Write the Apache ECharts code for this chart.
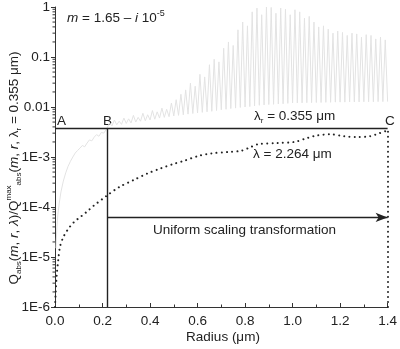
<!DOCTYPE html>
<html><head><meta charset="utf-8">
<script src="https://cdn.jsdelivr.net/npm/echarts@6/dist/echarts.min.js"></script>
<style>html,body{margin:0;padding:0;background:#fff}#c{width:400px;height:349px}</style>
</head><body><div id="c"></div>
<script>
// ---- data ----
const xTicks = [0, 0.2, 0.4, 0.6, 0.8, 1.0, 1.2, 1.4];
const yTickLabels = ['1E-6', '1E-5', '1E-4', '1E-3', '0.01', '0.1', '1'];
const yMinorMult = [2, 3, 4, 5, 6, 7, 8, 9];
const yDecades = [1e-6, 1e-5, 1e-4, 1e-3, 1e-2, 1e-1];

// gray curve (lambda_r = 0.355 um): smooth rise then resonances
const riseR = [0.004,0.008,0.012,0.018,0.025,0.035,0.045,0.055,0.065,0.075,0.085,0.095,0.105,0.115,0.125,0.135,0.145,0.155,0.165,0.175,0.185,0.195,0.205,0.215,0.222];
const riseV = [1.5e-5,4e-5,7e-5,1.2e-4,2e-4,3.3e-4,4.8e-4,6.5e-4,8.2e-4,1.0e-3,1.2e-3,1.35e-3,1.5e-3,1.7e-3,1.6e-3,1.9e-3,2.2e-3,2.1e-3,2.5e-3,2.8e-3,2.6e-3,3.1e-3,3.0e-3,3.5e-3,3.8e-3];
const peakR = [0.23,0.25,0.27,0.29,0.31,0.33,0.35,0.37,0.39,0.41,0.43,0.45,0.47,0.49,0.51,0.53,0.55,0.57,0.59,0.61,0.63,0.65,0.67,0.69,0.71,0.73,0.75,0.77,0.79,0.81,0.83,0.85,0.87,0.89,0.91,0.93,0.95,0.97,0.99,1.01,1.03,1.05,1.07,1.09,1.11,1.13,1.15,1.17,1.19,1.21,1.23,1.25,1.27,1.29,1.31,1.33,1.35,1.37,1.39];
const peakV = [0.0048,0.0055,0.0052,0.006,0.0058,0.0068,0.0062,0.0075,0.007,0.0085,0.008,0.0095,0.009,0.012,0.014,0.018,0.022,0.03,0.026,0.045,0.04,0.07,0.09,0.08,0.15,0.2,0.17,0.35,0.5,0.42,0.8,0.95,0.7,1.0,0.98,0.75,0.95,0.9,0.7,0.88,0.8,0.6,0.65,0.5,0.4,0.42,0.36,0.3,0.33,0.31,0.27,0.3,0.29,0.25,0.28,0.27,0.23,0.25,0.22];
const troughR = [0.24,0.26,0.28,0.30,0.32,0.34,0.36,0.38,0.40,0.42,0.44,0.46,0.48,0.50,0.52,0.54,0.56,0.58,0.60,0.62,0.64,0.66,0.68,0.70,0.72,0.74,0.76,0.78,0.80,0.82,0.84,0.86,0.88,0.90,0.92,0.94,0.96,0.98,1.00,1.02,1.04,1.06,1.08,1.10,1.12,1.14,1.16,1.18,1.20,1.22,1.24,1.26,1.28,1.30,1.32,1.34,1.36,1.38,1.40];
const troughV = [0.0042,0.0044,0.0045,0.0047,0.0048,0.005,0.0052,0.0053,0.0055,0.0057,0.006,0.0062,0.0064,0.0066,0.0068,0.007,0.0072,0.0074,0.0076,0.0078,0.008,0.0082,0.0085,0.0088,0.009,0.0093,0.0095,0.0098,0.01,0.0102,0.0105,0.0108,0.011,0.0112,0.0113,0.0115,0.0116,0.0118,0.012,0.012,0.0121,0.0122,0.0122,0.0123,0.0123,0.0124,0.0124,0.0125,0.0125,0.0125,0.0126,0.0126,0.0126,0.0127,0.0127,0.0127,0.0128,0.0128,0.0128];

// dotted curve (lambda = 2.264 um)
const dotR = [0.0,0.003,0.007,0.014,0.021,0.035,0.055,0.08,0.11,0.14,0.167,0.2,0.222,0.27,0.333,0.39,0.444,0.5,0.54,0.604,0.658,0.729,0.783,0.82,0.854,0.9375,1.008,1.0625,1.104,1.158,1.217,1.27,1.325,1.367,1.4];
const dotV = [1e-6,2e-6,4.2e-6,9e-6,1.6e-5,2.5e-5,3.6e-5,5e-5,6.5e-5,8.5e-5,1.1e-4,1.45e-4,1.74e-4,2.5e-4,3.5e-4,4.7e-4,5.9e-4,7.3e-4,8.3e-4,1.05e-3,1.18e-3,1.26e-3,1.33e-3,1.55e-3,1.8e-3,1.9e-3,2.0e-3,2.4e-3,2.7e-3,2.85e-3,2.6e-3,2.5e-3,2.6e-3,3.0e-3,3.4e-3];

// reference lines
const levelAC = 0.0038;
const radiusB = 0.22;
const radiusC = 1.4;
const arrowLevel = 6.2e-5;
const yMin = 1e-6, yMax = 1;

// ---- build ----
const grayData = riseR.map((r, i) => [r, riseV[i]]);
for (let i = 0; i < peakR.length; i++) {
  grayData.push([peakR[i], peakV[i]]);
  grayData.push([troughR[i], troughV[i]]);
}
const dotData = dotR.map((r, i) => [r, dotV[i]]);
const minorData = [];
yDecades.forEach(d => yMinorMult.forEach(k => minorData.push([0, k * d])));

const FONT = '"Liberation Sans", Arial, sans-serif';
const FS = 13.5;
const chart = echarts.init(document.getElementById('c'), null, {renderer: 'canvas'});
chart.setOption({
  animation: false,
  backgroundColor: '#fff',
  grid: {left: 55, right: 9, top: 6, bottom: 42},
  xAxis: {
    type: 'value', min: 0, max: 1.4, interval: 0.2,
    axisLine: {lineStyle: {color: '#333', width: 1}},
    axisTick: {inside: true, length: 4, lineStyle: {color: '#333'}},
    minorTick: {show: true, splitNumber: 2, length: 2.5, lineStyle: {color: '#333'}},
    splitLine: {show: false},
    axisLabel: {fontFamily: FONT, fontSize: FS, color: '#222', margin: 7,
      formatter: v => { const i = xTicks.findIndex(t => Math.abs(t - v) < 1e-6); return i >= 0 ? xTicks[i].toFixed(1) : ''; }}
  },
  yAxis: {
    type: 'log', logBase: 10, min: yMin, max: yMax,
    axisLine: {show: true, lineStyle: {color: '#333', width: 1}},
    axisTick: {show: true, length: 4, lineStyle: {color: '#333'}},
    splitLine: {show: false},
    axisLabel: {fontFamily: FONT, fontSize: FS, color: '#222', margin: 5,
      formatter: v => { const k = Math.round(Math.log10(v)) + 6; return yTickLabels[k] || ''; }}
  },
  series: [
    {
      type: 'line', data: grayData, showSymbol: false, symbol: 'none', z: 1,
      lineStyle: {color: '#e3e3e3', width: 1}
    },
    {
      type: 'line', data: dotData, showSymbol: false, symbol: 'none', z: 3, smooth: 0.3,
      lineStyle: {color: '#222', width: 2, type: [0.01, 5.2], cap: 'round'}
    },
    {
      type: 'line', data: [], z: 4, silent: true,
      markLine: {
        silent: true, symbol: 'none', animation: false,
        label: {show: false},
        lineStyle: {color: '#222', width: 1.4, type: 'solid'},
        data: [
          [{coord: [0, levelAC]}, {coord: [radiusC, levelAC]}],
          [{coord: [radiusB, yMin]}, {coord: [radiusB, levelAC]}],
          [{coord: [radiusB, arrowLevel]}, {coord: [radiusC, arrowLevel], symbol: 'arrow', symbolSize: [7, 12]}],
          [{coord: [radiusC, yMin], lineStyle: {type: [0.01, 5], cap: 'round', width: 2}}, {coord: [radiusC, levelAC]}]
        ]
      }
    },
    {
      type: 'custom', data: minorData, z: 5, silent: true,
      renderItem: (params, api) => {
        const p = api.coord([0, api.value(1)]);
        return {type: 'line', shape: {x1: p[0] - 2.5, y1: p[1], x2: p[0], y2: p[1]},
          style: {stroke: '#333', lineWidth: 1}};
      }
    }
  ],
  graphic: [
    {type: 'text', x: 67, y: 18, style: {
      text: '{i|m} = 1.65 – {i|i} 10{sup|-5}', fontFamily: FONT, fontSize: FS, fill: '#222', verticalAlign: 'middle',
      rich: {i: {fontStyle: 'italic', fontFamily: FONT, fontSize: FS, fill: '#222'},
             sup: {fontSize: 9, fontFamily: FONT, verticalAlign: 'top', lineHeight: 18, fill: '#222'}}}},
    {type: 'text', x: 57, y: 121, style: {text: 'A', fontFamily: FONT, fontSize: FS, fill: '#222', verticalAlign: 'middle'}},
    {type: 'text', x: 103, y: 121, style: {text: 'B', fontFamily: FONT, fontSize: FS, fill: '#222', verticalAlign: 'middle'}},
    {type: 'text', x: 385, y: 121, style: {text: 'C', fontFamily: FONT, fontSize: FS, fill: '#222', verticalAlign: 'middle'}},
    {type: 'text', x: 254, y: 116, style: {
      text: 'λ{sub|r} = 0.355 μm', fontFamily: FONT, fontSize: FS, fill: '#222', verticalAlign: 'middle',
      rich: {sub: {fontSize: 8, fontFamily: FONT, verticalAlign: 'bottom', lineHeight: 18, fill: '#222'}}}},
    {type: 'text', x: 253, y: 154, style: {text: 'λ = 2.264 μm', fontFamily: FONT, fontSize: FS, fill: '#222', verticalAlign: 'middle'}},
    {type: 'text', x: 153, y: 230, style: {text: 'Uniform scaling transformation', fontFamily: FONT, fontSize: FS, fill: '#222', verticalAlign: 'middle'}},
    {type: 'text', x: 223, y: 337, style: {text: 'Radius (μm)', fontFamily: FONT, fontSize: FS, fill: '#222', align: 'center', verticalAlign: 'middle'}},
    {type: 'text', x: 14, y: 168, rotation: Math.PI / 2, style: {
      text: 'Q{sub|abs}({i|m}, {i|r}, {i|λ})/Q{sup|max}{sub|abs}({i|m}, {i|r}, λ{sub|r} = 0.355 μm)',
      fontFamily: FONT, fontSize: FS, fill: '#222', align: 'center', verticalAlign: 'middle',
      rich: {
        i: {fontStyle: 'italic', fontFamily: FONT, fontSize: FS, fill: '#222'},
        sub: {fontSize: 8, fontFamily: FONT, verticalAlign: 'bottom', lineHeight: 18, fill: '#222'},
        sup: {fontSize: 8, fontFamily: FONT, verticalAlign: 'top', lineHeight: 18, fill: '#222'}
      }}}
  ]
});
</script>
</body></html>
